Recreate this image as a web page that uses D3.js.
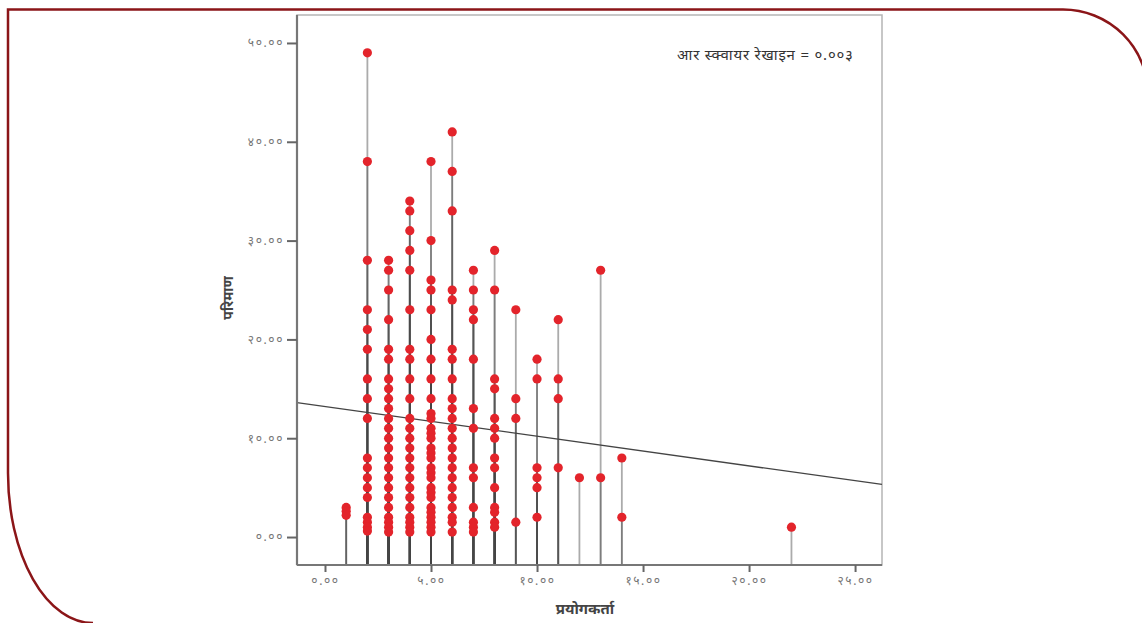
<!DOCTYPE html>
<html>
<head>
<meta charset="utf-8">
<script src="https://cdn.jsdelivr.net/npm/d3@7"></script>
<style>
  html, body { margin: 0; padding: 0; background: #fff; }
  svg { display: block; }
  text { font-family: "Noto Sans", "Noto Sans Devanagari", "Lohit Devanagari", sans-serif; }
</style>
</head>
<body>
<svg id="chart" width="1142" height="623"></svg>
<script>
// ---------- data ----------
const users = [1, 2, 3, 4, 5, 6, 7, 8, 9, 10, 11, 12, 13, 14, 22];
const amounts = [
  [3, 2.6, 2.2],
  [49, 38, 28, 23, 21, 19, 16, 14, 12, 8, 7, 6, 5, 4, 2, 1.5, 1, 0.6],
  [28, 27, 25, 22, 19, 18, 16, 15, 14, 13, 12, 11, 10, 9, 8, 7, 6, 5, 4, 3, 2, 1.5, 1, 0.5],
  [34, 33, 31, 29, 27, 23, 19, 18, 16, 14, 12, 11, 10, 9, 8, 7, 6, 5, 4, 3, 2, 1.5, 1, 0.5],
  [38, 30, 26, 25, 23, 20, 18, 16, 14, 12.5, 12, 11, 10.5, 10, 9, 8.5, 8, 7, 6.5, 6, 5, 4.5, 4, 3, 2.5, 2, 1.5, 1, 0.5],
  [41, 37, 33, 25, 24, 19, 18, 16, 14, 13, 12, 11, 10, 9, 8, 7, 6, 5, 4, 3, 2, 1.5, 0.5],
  [27, 25, 23, 22, 18, 13, 11, 7, 6, 3, 1.5, 1, 0.5],
  [29, 25, 16, 15, 12, 11, 10, 8, 7, 5, 3, 2.5, 1.5, 1],
  [23, 14, 12, 1.5],
  [18, 16, 7, 6, 5, 2],
  [22, 16, 14, 7],
  [6],
  [27, 6],
  [8, 2],
  [1]
];
const xTicks = [0, 5, 10, 15, 20, 25];
const yTicks = [0, 10, 20, 30, 40, 50];
const fitIntercept = 13.2;
const fitSlope = -0.30;
const xTitle = "प्रयोगकर्ता";
const yTitle = "परिमाण";
const rsqLabel = "आर स्क्वायर रेखाइन = ०.००३";

// ---------- helpers ----------
const devDigits = ["०","१","२","३","४","५","६","७","८","९"];
const toDev = s => s.replace(/[0-9]/g, d => devDigits[+d]);
const fmt = v => toDev(v.toFixed(2));

const points = [];
users.forEach((u, i) => amounts[i].forEach(v => points.push({x: u, y: v})));

const svg = d3.select("#chart");

// decorative border
svg.append("path")
  .attr("d", "M1063,9.5 L8,9.5 L8,473 A85,150 0 0 0 93,623")
  .attr("fill", "none").attr("stroke", "#8b1518").attr("stroke-width", 2.5);
svg.append("path")
  .attr("d", "M1063,9.5 A85,85 0 0 1 1148,94.5")
  .attr("fill", "none").attr("stroke", "#8b1518").attr("stroke-width", 2.5);

const pL = 297, pR = 882, pT = 15, pB = 565;
const x = d3.scaleLinear().domain([-1.32, 26.27]).range([pL, pR]);
const y = d3.scaleLinear().domain([-2.83, 52.83]).range([pB, pT]);

// plot frame
svg.append("rect")
  .attr("x", pL).attr("y", pT)
  .attr("width", pR - pL).attr("height", pB - pT)
  .attr("fill", "none").attr("stroke", "#b5b5b5").attr("stroke-width", 1.5);

// drop lines
const g = svg.append("g");
g.selectAll("line.stem").data(points).join("line")
  .attr("class", "stem")
  .attr("x1", d => x(d.x)).attr("x2", d => x(d.x))
  .attr("y1", d => y(d.y)).attr("y2", pB)
  .attr("stroke", "#444").attr("stroke-opacity", 0.45).attr("stroke-width", 1.8);

// fit line
const xd = x.domain();
svg.append("line")
  .attr("x1", x(xd[0])).attr("y1", y(fitIntercept + fitSlope * xd[0]))
  .attr("x2", x(xd[1])).attr("y2", y(fitIntercept + fitSlope * xd[1]))
  .attr("stroke", "#444").attr("stroke-width", 1.3);

// points
svg.append("g").selectAll("circle").data(points).join("circle")
  .attr("cx", d => x(d.x)).attr("cy", d => y(d.y)).attr("r", 4.6)
  .attr("fill", "#e3242b");

// axes
const yAxis = d3.axisLeft(y).tickValues(yTicks).tickFormat(fmt).tickSize(10).tickPadding(3);
const yg = svg.append("g").attr("transform", `translate(${pL},0)`).call(yAxis);
const xAxis = d3.axisBottom(x).tickValues(xTicks).tickFormat(fmt).tickSize(7).tickPadding(4);
const xg = svg.append("g").attr("transform", `translate(0,${pB})`).call(xAxis);
[yg, xg].forEach(a => {
  a.select(".domain").attr("stroke", "#777").attr("stroke-width", 2.2);
  a.selectAll(".tick line").attr("stroke", "#666").attr("stroke-width", 2);
  a.selectAll(".tick text").attr("fill", "#777").attr("font-size", 12).attr("letter-spacing", 1.6);
});
yg.select(".domain").attr("d", `M0,${pT}V${pB}`);
xg.select(".domain").attr("d", `M${pL},0H${pR}`);

// titles
svg.append("text")
  .attr("transform", `translate(233,298) rotate(-90)`)
  .attr("text-anchor", "middle").attr("font-size", 14).attr("font-weight", "bold")
  .attr("fill", "#444").text(yTitle);
svg.append("text")
  .attr("x", 585).attr("y", 614)
  .attr("text-anchor", "middle").attr("font-size", 15).attr("font-weight", "bold")
  .attr("fill", "#444").text(xTitle);
svg.append("text")
  .attr("x", 677).attr("y", 60)
  .attr("font-size", 15).attr("letter-spacing", 0.8)
  .attr("fill", "#333").text(rsqLabel);
</script>
</body>
</html>
